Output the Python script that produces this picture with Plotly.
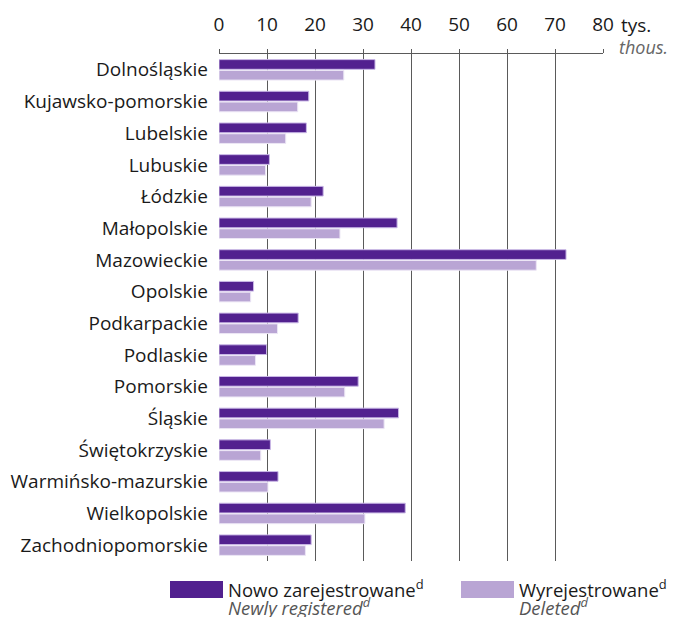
import plotly.graph_objects as go

regions = ["Dolnośląskie", "Kujawsko-pomorskie", "Lubelskie", "Lubuskie", "Łódzkie",
           "Małopolskie", "Mazowieckie", "Opolskie", "Podkarpackie", "Podlaskie",
           "Pomorskie", "Śląskie", "Świętokrzyskie", "Warmińsko-mazurskie",
           "Wielkopolskie", "Zachodniopomorskie"]
registered = [32.5, 18.7, 18.2, 10.5, 21.7, 37.1, 72.3, 7.2, 16.5, 9.9,
              29.0, 37.4, 10.7, 12.3, 38.8, 19.2]
deleted = [26.0, 16.4, 13.9, 9.7, 19.2, 25.2, 66.1, 6.6, 12.2, 7.6,
           26.2, 34.4, 8.7, 10.2, 30.4, 18.0]
tick_vals = [0, 10, 20, 30, 40, 50, 60, 70, 80]

DARK = "#52218f"
LIGHT = "#b9a5d4"
FONT = "Open Sans"
FS = 19

# page body has an 8px margin; figure is sized to fit the window
OFF = 8
W, H = 676 - 2 * OFF, 625 - 2 * OFF
L, T = 219 - OFF, 54 - OFF
R = W - (603 - OFF)
B = H - (561 - OFF)

fig = go.Figure()
fig.add_trace(go.Bar(y=regions, x=registered, orientation="h", marker_color=DARK,
                     marker_line=dict(color="#c9b8e6", width=1), showlegend=False))
fig.add_trace(go.Bar(y=regions, x=deleted, orientation="h", marker_color=LIGHT,
                     marker_line=dict(color="#ece6f5", width=1), showlegend=False))

fig.update_layout(
    width=W, height=H,
    margin=dict(l=L, r=R, t=T, b=B, autoexpand=False),
    plot_bgcolor="white", paper_bgcolor="white",
    barmode="group", bargap=0.32, bargroupgap=0.1,
    font=dict(family=FONT, size=FS, color="#1a1a1a"),
    xaxis=dict(side="top", range=[0, 80], tickvals=tick_vals, automargin=False,
               showgrid=True, gridcolor="#5a5a5a", gridwidth=1.3,
               showline=True, linecolor="#5a5a5a", linewidth=1.3,
               ticks="outside", ticklen=4, tickcolor="#5a5a5a",
               ticklabelstandoff=10,
               zeroline=False, tickfont=dict(size=FS)),
    yaxis=dict(autorange="reversed", showgrid=False, ticks="", showline=False,
               automargin=False, ticklabelstandoff=10, tickfont=dict(size=FS)),
)

def px_x(p):
    return (p - OFF - L) / (W - L - R)
def px_y(p):
    return (H - B - (p - OFF)) / (H - T - B)

fig.add_annotation(xref="paper", yref="paper", x=px_x(619), y=px_y(25), xanchor="left", yanchor="middle",
                   text="tys.", showarrow=False, font=dict(size=FS, color="#1a1a1a"))
fig.add_annotation(xref="paper", yref="paper", x=px_x(617), y=px_y(47), xanchor="left", yanchor="middle",
                   text="<i>thous.</i>", showarrow=False, font=dict(size=FS - 1, color="#666666"))

# legend (manual)
fig.add_shape(type="rect", xref="paper", yref="paper", x0=px_x(170), x1=px_x(223),
              y0=px_y(598), y1=px_y(581), fillcolor=DARK, line_width=0)
fig.add_shape(type="rect", xref="paper", yref="paper", x0=px_x(461), x1=px_x(514),
              y0=px_y(598), y1=px_y(581), fillcolor=LIGHT, line_width=0)
fig.add_annotation(xref="paper", yref="paper", x=px_x(226), y=px_y(588), xanchor="left", yanchor="middle",
                   text="Nowo zarejestrowane<sup>d</sup>", showarrow=False, font=dict(size=FS - 0.5, color="#1a1a1a"))
fig.add_annotation(xref="paper", yref="paper", x=px_x(226), y=px_y(606), xanchor="left", yanchor="middle",
                   text="<i>Newly registered<sup>d</sup></i>", showarrow=False, font=dict(size=FS - 0.5, color="#555555"))
fig.add_annotation(xref="paper", yref="paper", x=px_x(517), y=px_y(588), xanchor="left", yanchor="middle",
                   text="Wyrejestrowane<sup>d</sup>", showarrow=False, font=dict(size=FS - 0.5, color="#1a1a1a"))
fig.add_annotation(xref="paper", yref="paper", x=px_x(517), y=px_y(606), xanchor="left", yanchor="middle",
                   text="<i>Deleted<sup>d</sup></i>", showarrow=False, font=dict(size=FS - 0.5, color="#555555"))

fig.write_html("out.html")
